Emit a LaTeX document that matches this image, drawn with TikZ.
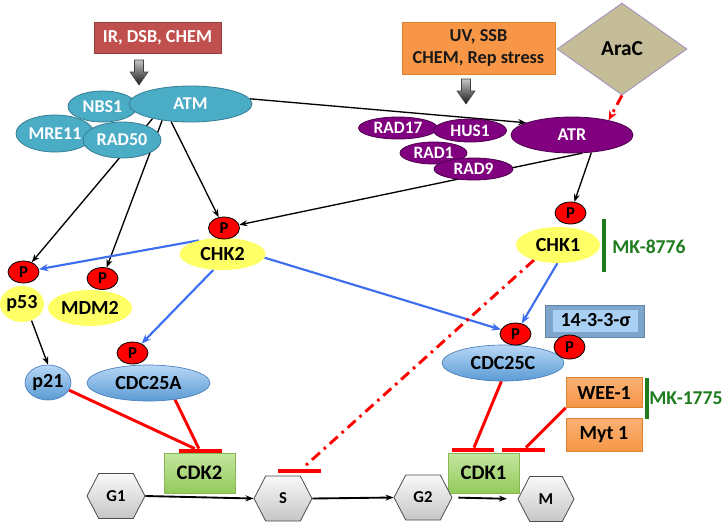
\documentclass[tikz,border=0pt]{standalone}
\usepackage{fontspec}
\setmainfont{Carlito}
\usetikzlibrary{shapes.geometric,shapes.symbols,arrows.meta,backgrounds}
\pgfdeclarelayer{back0}
\pgfsetlayers{back0,background,main}
\definecolor{irred}{HTML}{C0504D}
\definecolor{tealF}{HTML}{4BACC6}
\definecolor{tealB}{HTML}{357D91}
\definecolor{purp}{HTML}{800080}
\definecolor{purpB}{HTML}{4D004D}
\definecolor{yel}{HTML}{FFFF66}
\definecolor{orng}{HTML}{F79646}
\definecolor{orngB}{HTML}{E0812F}
\definecolor{tanF}{HTML}{C4BD97}
\definecolor{lilac}{HTML}{A08CC0}
\definecolor{mkgreen}{HTML}{1E7B1E}
\definecolor{blueA}{HTML}{B8D7F5}
\definecolor{blueB}{HTML}{5B9BD5}
\definecolor{blueEd}{HTML}{4A7EBB}
\definecolor{arrblue}{HTML}{3D6EF0}
\definecolor{grnA}{HTML}{C4E6A0}
\definecolor{grnB}{HTML}{94CA5C}
\definecolor{grnE}{HTML}{86B852}
\definecolor{bevD}{HTML}{7EA6CC}
\definecolor{bevL}{HTML}{A9CFF2}
\begin{document}
\begin{tikzpicture}[x=0.75pt,y=-0.75pt,
  ell/.style 2 args={ellipse, inner sep=0pt, minimum width=#1*0.75pt, minimum height=#2*0.75pt},
  boxs/.style 2 args={rectangle, inner sep=0pt, minimum width=#1*0.75pt, minimum height=#2*0.75pt},
  tealE/.style={fill=tealF, draw=tealB, line width=0.6pt, text=white, font=\fontsize{13.5}{14}\selectfont\bfseries},
  purpE/.style={fill=purp, draw=purpB, line width=0.6pt, text=white, font=\fontsize{13}{14}\selectfont\bfseries},
  yelE/.style={fill=yel, font=\fontsize{15}{16}\selectfont\bfseries},
  pE/.style={ell={31}{22}, fill=red, draw=black, line width=0.6pt, font=\fontsize{12.5}{13}\selectfont\bfseries},
  bluEl/.style={top color=blueA, bottom color=blueB, draw=blueEd, line width=0.5pt, font=\fontsize{15}{16}\selectfont\bfseries},
  orbox/.style={top color=orng!75!white, bottom color=orng, draw=orngB, line width=0.4pt, font=\fontsize{15}{16}\selectfont\bfseries},
  cdkbox/.style={top color=grnA, bottom color=grnB, draw=grnE, line width=0.5pt, font=\fontsize{15.5}{16}\selectfont\bfseries},
  hexn/.style={signal, signal to=east and west, signal pointer angle=125, inner sep=0pt, minimum width=58*0.75pt, minimum height=45*0.75pt, top color=gray!5, bottom color=gray!45, draw=gray!60!black, line width=0.6pt, font=\fontsize{12.5}{13}\selectfont\bfseries},
  blockarr/.style={top color=gray!45, bottom color=black!90, draw=black!75, line width=0.4pt},
  barn/.style={fill=red, inner sep=0pt, minimum height=3.2pt, minimum width=43*0.75pt},
  blk/.style={-{Stealth[length=6pt,width=4.5pt]}, line width=1pt, black},
  blu/.style={-{Stealth[length=7pt,width=5.5pt]}, line width=1.6pt, arrblue},
  inh/.style={red, line width=2.2pt},
  dd/.style={red, line width=2.2pt, dash pattern=on 8pt off 4pt on 2pt off 4pt}
]
\begin{pgfonlayer}{back0}
\fill[white] (0,0) rectangle (724,526);
\end{pgfonlayer}
\useasboundingbox (0,0) rectangle (724,526);

% stimuli
\node[boxs={127}{31}, fill=irred, draw=irred!75!black, line width=0.5pt, text=white, font=\fontsize{13.7}{14}\selectfont\bfseries] (ir) at (157.5,37.5) {IR, DSB, CHEM};
\path[blockarr] (134.5,60) -- (143.5,60) -- (143.5,72) -- (148,72) -- (139,85) -- (130,72) -- (134.5,72) -- cycle;
\node[boxs={153}{52}, fill=orng, draw=orngB, line width=0.5pt, align=center, text=black!90, font=\fontsize{13.7}{17}\selectfont\bfseries] (uv) at (478.5,48) {UV, SSB\\CHEM, Rep stress};
\path[blockarr] (461.5,79) -- (470.5,79) -- (470.5,91) -- (475,91) -- (466,104) -- (457,91) -- (461.5,91) -- cycle;
\node[diamond, fill=tanF, draw=lilac, line width=0.6pt, inner sep=0pt, minimum width=130*0.75pt, minimum height=92*0.75pt, font=\fontsize{16}{17}\selectfont\bfseries] (arac) at (622,49) {AraC};

% ATM complex
\node[ell={69}{31}, tealE] (nbs1) at (102.5,106.5) {NBS1};
\node[ell={78}{37}, tealE] (mre11) at (55,133.5) {MRE11};
\node[ell={123}{36}, tealE] (atm) at (190.5,104) {ATM};
\node[ell={78}{36}, tealE] (rad50) at (122,140) {RAD50};

% ATR complex
\node[ell={79}{22}, purpE] (rad17) at (398,128) {RAD17};
\node[ell={73}{23}, purpE] (hus1) at (470,130.5) {HUS1};
\node[ell={67}{22}, purpE] (rad1) at (433.5,153) {RAD1};
\node[ell={79}{22}, purpE] (rad9) at (473.5,169) {RAD9};
\node[ell={122}{36}, purpE, font=\fontsize{13.5}{14}\selectfont\bfseries] (atr) at (572,135) {ATR};

% checkpoint kinases and targets
\node[ell={86}{32}, yelE] (chk2) at (222.5,254) {CHK2};
\node[ell={84}{36}, yelE] (chk1) at (558,245) {CHK1};
\node[ell={40}{36}, yelE] (p53) at (22,304) {p53};
\node[ell={84}{36}, yelE] (mdm2) at (90,308) {MDM2};
\node[pE] (chk2p) at (224,228) {P};
\node[pE] (chk1p) at (570.5,213) {P};
\node[pE] (p53p) at (23.5,272) {P};
\node[pE] (mdm2p) at (102.5,278.5) {P};

\node[ell={46}{35}, bluEl] (p21) at (48,382.5) {p21};
\node[ell={123}{36}, bluEl] (cdc25a) at (148.5,383) {CDC25A};
\node[pE] (cdc25ap) at (132.5,353) {P};
\node[ell={122}{36}, bluEl] (cdc25c) at (503,363) {CDC25C};

\node[boxs={99}{32}, fill=bevD, draw=bevD!80!black, line width=0.4pt] (b1433) at (594.5,321) {};
\node[boxs={85}{22}, fill=bevL, font=\fontsize{15}{16}\selectfont\bfseries] (b1433t) at (595.5,320.5) {14-3-3-σ};
\node[pE] (cdc25cp1) at (515.5,334) {P};
\node[pE, minimum height=24*0.75pt] (cdc25cp2) at (569.5,347) {P};

\node[boxs={76}{30}, orbox] (wee1) at (604,392.5) {WEE-1};
\node[boxs={76}{33}, orbox] (myt1) at (604,435) {Myt 1};

% inhibitors
\draw[mkgreen, line width=3pt] (604,219) -- (604,272);
\node[anchor=west, text=mkgreen, inner sep=0pt, font=\fontsize{14.7}{15}\selectfont\bfseries] (mk8776) at (612,247) {MK-8776};
\draw[mkgreen, line width=3pt] (647,378) -- (647,419);
\node[anchor=west, text=mkgreen, inner sep=0pt, font=\fontsize{14.7}{15}\selectfont\bfseries] (mk1775) at (649,398) {MK-1775};

% CDKs and cycle
\node[boxs={71}{40}, cdkbox] (cdk2) at (199.5,473) {CDK2};
\node[boxs={71}{40}, cdkbox] (cdk1) at (483.5,473) {CDK1};
\node[hexn] (g1) at (116,496) {G1};
\node[hexn] (s) at (283,498.5) {S};
\node[hexn] (g2) at (423,497.5) {G2};
\node[hexn, minimum width=56*0.75pt] (m) at (546,499) {M};

\node[barn] (cdk2bar) at (200,451) {};
\node[barn, minimum width=42*0.75pt] (cdk1bar1) at (473,450) {};
\node[barn] (cdk1bar2) at (523.5,450) {};
\node[barn] (sbar) at (299.5,471) {};

\begin{scope}[on background layer]
\draw[blk] (atm.5) -- (atr.165);
\draw[blk] (atm.201) -- (p53p);
\draw[blk] (atm.210) -- (mdm2p);
\draw[blk] (atm.222) -- (chk2p);
\draw[blk] (atr.300) -- (chk2p);
\draw[blk] (atr.318) -- (chk1p);
\draw[blk] (p53.300) -- (p21.north);
\draw[blu] (chk2.150) -- (p53p);
\draw[blu] (chk2.240) -- (cdc25ap);
\draw[blu] (chk2.355) -- (cdc25cp1);
\draw[blu] (chk1.268) -- (cdc25cp1);
\draw[dd, -{Stealth[length=7pt,width=6pt]}] (arac.south) -- (atr.22);
\draw[dd] (chk1.212) -- (sbar);
\draw[inh] (p21.340) -- (cdk2bar);
\draw[inh] (cdc25a.328) -- (cdk2bar);
\draw[inh] (cdc25c.265) -- (cdk1bar1);
\draw[inh] (wee1.south west) -- (cdk1bar2);
\draw[blk, line width=1.4pt] (g1.east) -- (s.west);
\draw[blk, line width=1.4pt] (s.east) -- (g2.west);
\draw[blk, line width=1.4pt, shorten <=4.5pt, shorten >=8pt] (g2.east) -- (m.west);
\end{scope}
\end{tikzpicture}
\end{document}
